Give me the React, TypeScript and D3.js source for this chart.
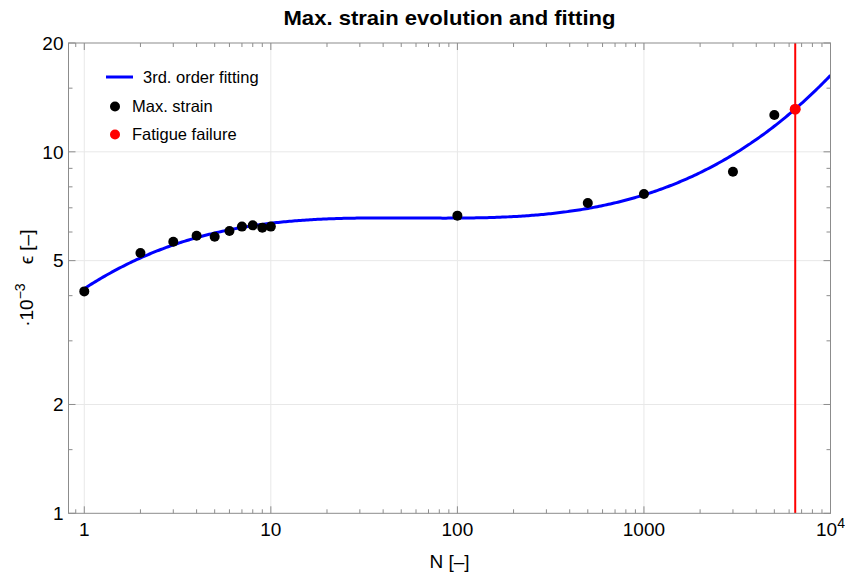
import React from 'react';
import * as d3 from 'd3';

// Measured maximum strain (·10^-3) per load cycle N
const cycles = [1, 2, 3, 4, 5, 6, 7, 8, 9, 10, 100, 500, 1000, 3000, 5000];
const maxStrain = [4.11, 5.25, 5.64, 5.86, 5.82, 6.04, 6.21, 6.26, 6.17, 6.21, 6.66, 7.22, 7.64, 8.81, 12.65];

// Fatigue failure
const failureCycles = [6470];
const failureStrain = [13.12];

// Axes
const xDomain = [0.823, 10000];
const yDomain = [1, 20];
const xMajorTicks = [1, 10, 100, 1000, 10000];
const xTickLabels = ['1', '10', '100', '1000', '10^4'];
const xMinorTicks = [
  0.9,
  2, 3, 4, 5, 6, 7, 8, 9,
  20, 30, 40, 50, 60, 70, 80, 90,
  200, 300, 400, 500, 600, 700, 800, 900,
  2000, 3000, 4000, 5000, 6000, 7000, 8000, 9000,
];
const yMajorTicks = [1, 2, 5, 10, 20];
const yTickLabels = ['1', '2', '5', '10', '20'];
const yMinorTicks = [1.5, 3, 4, 6, 7, 8, 9, 15];

const legendLabels = ['3rd. order fitting', 'Max. strain', 'Fatigue failure'];

const W = 845;
const H = 573;
const M = { left: 68.5, right: 830.5, top: 43, bottom: 513.3 };

const FONT = '"Liberation Sans", Arial, sans-serif';
const FRAME = '#8c8c8c';
const GRID = '#e8e8e8';

// Least-squares cubic in log10(N) vs log10(strain)
function cubicFit(xs: number[], ys: number[]): number[] {
  const n = 4;
  const A: number[][] = Array.from({ length: n }, () => new Array(n + 1).fill(0));
  xs.forEach((xv, k) => {
    const u = Math.log10(xv);
    const v = Math.log10(ys[k]);
    const p = [1, u, u * u, u * u * u];
    for (let i = 0; i < n; i++) {
      for (let j = 0; j < n; j++) A[i][j] += p[i] * p[j];
      A[i][n] += p[i] * v;
    }
  });
  for (let c = 0; c < n; c++) {
    let piv = c;
    for (let r = c + 1; r < n; r++) if (Math.abs(A[r][c]) > Math.abs(A[piv][c])) piv = r;
    [A[c], A[piv]] = [A[piv], A[c]];
    for (let r = 0; r < n; r++) {
      if (r === c) continue;
      const f = A[r][c] / A[c][c];
      for (let k = c; k <= n; k++) A[r][k] -= f * A[c][k];
    }
  }
  return A.map((row, i) => row[n] / row[i]);
}

export default function App() {
  const x = d3.scaleLog().domain(xDomain).range([M.left, M.right]);
  const y = d3.scaleLog().domain(yDomain).range([M.bottom, M.top]);

  const coef = cubicFit(cycles, maxStrain);
  const fitAt = (n: number) => {
    const u = Math.log10(n);
    return Math.pow(10, coef[0] + coef[1] * u + coef[2] * u * u + coef[3] * u * u * u);
  };
  const uSamples = d3.range(0, 401).map(
    (i) => Math.log10(1) + (i / 400) * (Math.log10(xDomain[1]) - Math.log10(1))
  );
  const fitLine = d3
    .line<number>()
    .x((u) => x(Math.pow(10, u)))
    .y((u) => y(fitAt(Math.pow(10, u))));

  const majorLen = 7;
  const minorLen = 4;

  const legendX = 106;
  const legendY = [77, 106.5, 134.5];

  return (
    <svg
      width={W}
      height={H}
      style={{ position: 'absolute', left: 0, top: 0, background: '#fff' }}
      fontFamily={FONT}
    >
      <defs>
        <clipPath id="plotArea">
          <rect x={M.left} y={M.top} width={M.right - M.left} height={M.bottom - M.top} />
        </clipPath>
      </defs>
      <rect x={0} y={0} width={W} height={H} fill="#fff" />

      {/* grid */}
      <g stroke={GRID} strokeWidth={1}>
        {xMajorTicks.slice(0, 4).map((t) => (
          <line key={'gx' + t} x1={x(t)} x2={x(t)} y1={M.top} y2={M.bottom} />
        ))}
        {yMajorTicks.slice(1, 4).map((t) => (
          <line key={'gy' + t} x1={M.left} x2={M.right} y1={y(t)} y2={y(t)} />
        ))}
      </g>

      <g clipPath="url(#plotArea)">
        <path d={fitLine(uSamples) ?? ''} fill="none" stroke="#0000ff" strokeWidth={3} />
        {cycles.map((c, i) => (
          <circle key={'p' + i} cx={x(c)} cy={y(maxStrain[i])} r={5} fill="#000" />
        ))}
        {failureCycles.map((c, i) => (
          <g key={'f' + i}>
            <line x1={x(c)} x2={x(c)} y1={M.top} y2={M.bottom} stroke="#ff0000" strokeWidth={2} />
            <circle cx={x(c)} cy={y(failureStrain[i])} r={5.5} fill="#ff0000" />
          </g>
        ))}
      </g>

      {/* frame */}
      <rect
        x={M.left}
        y={M.top}
        width={M.right - M.left}
        height={M.bottom - M.top}
        fill="none"
        stroke={FRAME}
        strokeWidth={1}
      />

      {/* ticks */}
      <g stroke={FRAME} strokeWidth={1}>
        {xMajorTicks.map((t) => (
          <g key={'xt' + t}>
            <line x1={x(t)} x2={x(t)} y1={M.bottom} y2={M.bottom - majorLen} />
            <line x1={x(t)} x2={x(t)} y1={M.top} y2={M.top + majorLen} />
          </g>
        ))}
        {xMinorTicks.map((t) => (
          <g key={'xm' + t}>
            <line x1={x(t)} x2={x(t)} y1={M.bottom} y2={M.bottom - minorLen} />
            <line x1={x(t)} x2={x(t)} y1={M.top} y2={M.top + minorLen} />
          </g>
        ))}
        {yMajorTicks.map((t) => (
          <g key={'yt' + t}>
            <line x1={M.left} x2={M.left + majorLen} y1={y(t)} y2={y(t)} />
            <line x1={M.right} x2={M.right - majorLen} y1={y(t)} y2={y(t)} />
          </g>
        ))}
        {yMinorTicks.map((t) => (
          <g key={'ym' + t}>
            <line x1={M.left} x2={M.left + minorLen} y1={y(t)} y2={y(t)} />
            <line x1={M.right} x2={M.right - minorLen} y1={y(t)} y2={y(t)} />
          </g>
        ))}
      </g>

      {/* tick labels */}
      <g fontSize={19} fill="#000">
        {xMajorTicks.map((t, i) => {
          const lab = xTickLabels[i];
          if (lab.includes('^')) {
            const [base, exp] = lab.split('^');
            return (
              <text key={'xl' + t} x={x(t)} y={535.5} textAnchor="middle">
                {base}
                <tspan dy={-8} fontSize={14}>
                  {exp}
                </tspan>
              </text>
            );
          }
          return (
            <text key={'xl' + t} x={x(t)} y={535.5} textAnchor="middle">
              {lab}
            </text>
          );
        })}
        {yMajorTicks.map((t, i) => (
          <text key={'yl' + t} x={63.5} y={y(t)} dy="0.36em" textAnchor="end">
            {yTickLabels[i]}
          </text>
        ))}
      </g>

      {/* axis titles */}
      <text x={449.5} y={568} textAnchor="middle" fontSize={19} fill="#000">
        N [–]
      </text>
      <text
        transform={`translate(33, ${(M.top + M.bottom) / 2}) rotate(-90)`}
        textAnchor="middle"
        fontSize={19}
        fill="#000"
      >
        ·10
        <tspan dy={-8} fontSize={14}>
          −3
        </tspan>
        <tspan dy={8}>{'\u2003ϵ [–]'}</tspan>
      </text>

      {/* title */}
      <text
        x={449.5}
        y={25}
        textAnchor="middle"
        fontSize={21}
        fontWeight="bold"
        fill="#000"
        textLength={332}
        lengthAdjust="spacingAndGlyphs"
      >
        Max. strain evolution and fitting
      </text>

      {/* legend */}
      <g fontSize={16.5} fill="#000">
        <line
          x1={legendX}
          x2={legendX + 27}
          y1={legendY[0]}
          y2={legendY[0]}
          stroke="#0000ff"
          strokeWidth={3}
        />
        <text x={143} y={legendY[0]} dy="0.35em">
          {legendLabels[0]}
        </text>
        <circle cx={115} cy={legendY[1]} r={5} fill="#000" />
        <text x={132} y={legendY[1]} dy="0.35em">
          {legendLabels[1]}
        </text>
        <circle cx={115} cy={legendY[2]} r={5} fill="#ff0000" />
        <text x={132} y={legendY[2]} dy="0.35em">
          {legendLabels[2]}
        </text>
      </g>
    </svg>
  );
}
